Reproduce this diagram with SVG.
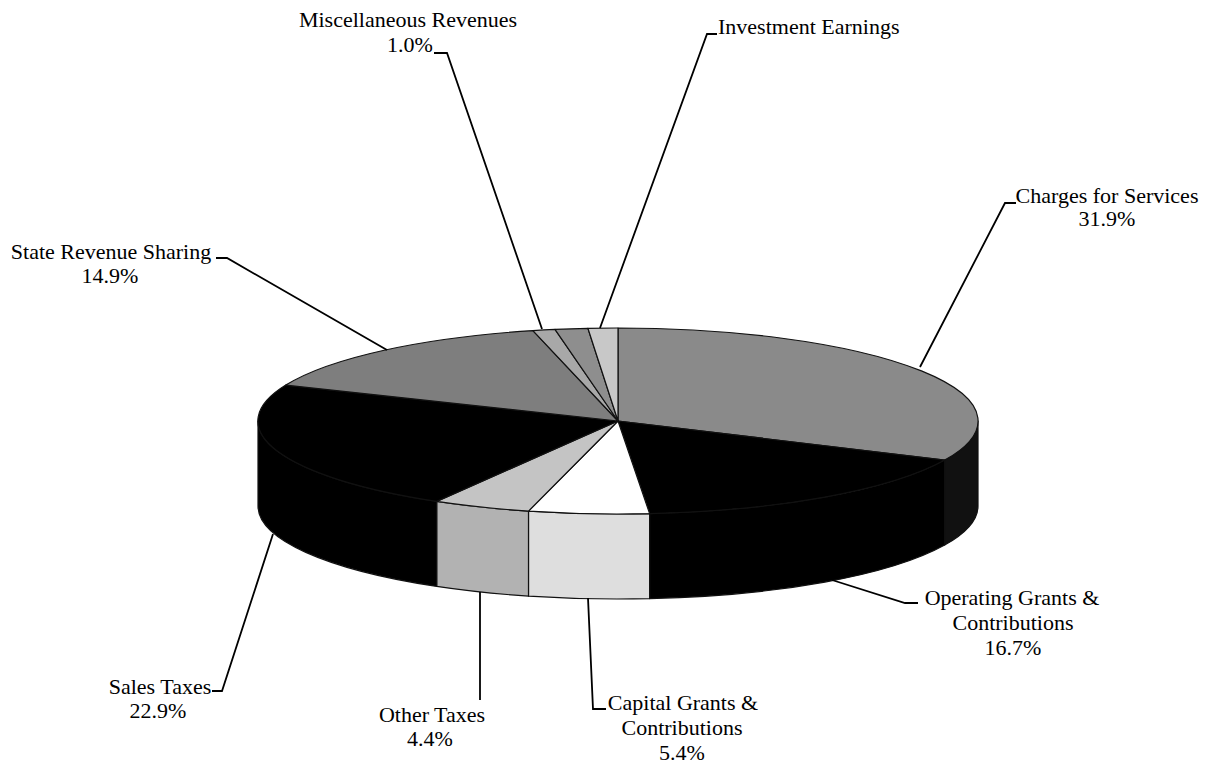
<svg xmlns="http://www.w3.org/2000/svg" width="1207" height="768" viewBox="0 0 1207 768">
<style>
.lbl{font-family:"Liberation Serif","DejaVu Serif",serif;font-size:22px;fill:#000;text-anchor:middle}
.st{text-anchor:start}
.top,.side{stroke:#111;stroke-width:1.2;stroke-linejoin:round}
.lead{fill:none;stroke:#000;stroke-width:1.8}
</style>
<rect width="1207" height="768" fill="#fff"/>
<g id="slice-charges">
<path class="side" fill="#111" d="M978 421 A360 93 0 0 1 944.7 460.1 L944.7 545.1 A360 93 0 0 0 978 506 Z"/>
<path class="top" fill="#8a8a8a" d="M618 421 L618 328 A360 93 0 0 1 944.7 460.1 Z"/>
<text class="lbl" font-family="Liberation Serif, serif" x="1107" y="203">Charges for Services</text>
<text class="lbl" font-family="Liberation Serif, serif" x="1107" y="226">31.9%</text>
</g>
<g id="slice-operating">
<path class="side" fill="#000" d="M944.7 460.1 A360 93 0 0 1 649.6 513.6 L649.6 598.6 A360 93 0 0 0 944.7 545.1 Z"/>
<path class="top" fill="#000" d="M618 421 L944.7 460.1 A360 93 0 0 1 649.6 513.6 Z"/>
<text class="lbl" font-family="Liberation Serif, serif" x="1012" y="605">Operating Grants &amp;</text>
<text class="lbl" font-family="Liberation Serif, serif" x="1013" y="630">Contributions</text>
<text class="lbl" font-family="Liberation Serif, serif" x="1013" y="655">16.7%</text>
</g>
<g id="slice-capital">
<path class="side" fill="#dedede" d="M649.6 513.6 A360 93 0 0 1 528.5 511.1 L528.5 596.1 A360 93 0 0 0 649.6 598.6 Z"/>
<path class="top" fill="#ffffff" d="M618 421 L649.6 513.6 A360 93 0 0 1 528.5 511.1 Z"/>
<text class="lbl" font-family="Liberation Serif, serif" x="683" y="710">Capital Grants &amp;</text>
<text class="lbl" font-family="Liberation Serif, serif" x="682" y="735">Contributions</text>
<text class="lbl" font-family="Liberation Serif, serif" x="682" y="760">5.4%</text>
</g>
<g id="slice-other">
<path class="side" fill="#b2b2b2" d="M528.5 511.1 A360 93 0 0 1 436.7 501.4 L436.7 586.4 A360 93 0 0 0 528.5 596.1 Z"/>
<path class="top" fill="#c4c4c4" d="M618 421 L528.5 511.1 A360 93 0 0 1 436.7 501.4 Z"/>
<text class="lbl" font-family="Liberation Serif, serif" x="432" y="722">Other Taxes</text>
<text class="lbl" font-family="Liberation Serif, serif" x="430" y="746">4.4%</text>
</g>
<g id="slice-sales">
<path class="side" fill="#000" d="M436.7 501.4 A360 93 0 0 1 258 421 L258 506 A360 93 0 0 0 436.7 586.4 Z"/>
<path class="top" fill="#000" d="M618 421 L436.7 501.4 A360 93 0 0 1 285.8 385.1 Z"/>
<text class="lbl" font-family="Liberation Serif, serif" x="160" y="694">Sales Taxes</text>
<text class="lbl" font-family="Liberation Serif, serif" x="158" y="718">22.9%</text>
</g>
<g id="slice-state">
<path class="top" fill="#7e7e7e" d="M618 421 L285.8 385.1 A360 93 0 0 1 532.9 330.6 Z"/>
<text class="lbl" font-family="Liberation Serif, serif" x="111" y="259">State Revenue Sharing</text>
<text class="lbl" font-family="Liberation Serif, serif" x="110" y="283">14.9%</text>
</g>
<g id="slice-misc">
<path class="top" fill="#a8a8a8" d="M618 421 L532.9 330.6 A360 93 0 0 1 555 329.4 Z"/>
<text class="lbl" font-family="Liberation Serif, serif" x="408" y="27">Miscellaneous Revenues</text>
<text class="lbl" font-family="Liberation Serif, serif" x="410" y="52">1.0%</text>
</g>
<g id="slice-unlabeled">
<path class="top" fill="#8e8e8e" d="M618 421 L555 329.4 A360 93 0 0 1 587.9 328.3 Z"/>
</g>
<g id="slice-investment">
<path class="top" fill="#c8c8c8" d="M618 421 L587.9 328.3 A360 93 0 0 1 618 328 Z"/>
<text class="lbl st" font-family="Liberation Serif, serif" x="718" y="34">Investment Earnings</text>
</g>
<g id="connectors">
<polyline class="lead" points="434,53 447,53 542,329"/>
<polyline class="lead" points="717,34 707,34 600,328"/>
<polyline class="lead" points="1016,203 1005,203 920,367"/>
<polyline class="lead" points="216,258 227,258 387,350"/>
<polyline class="lead" points="918,603 905,603 832,580"/>
<polyline class="lead" points="212,691 222,691 273,534"/>
<polyline class="lead" points="480,592 480,700"/>
<polyline class="lead" points="588,598 593,709 606,709"/>
</g>
</svg>
